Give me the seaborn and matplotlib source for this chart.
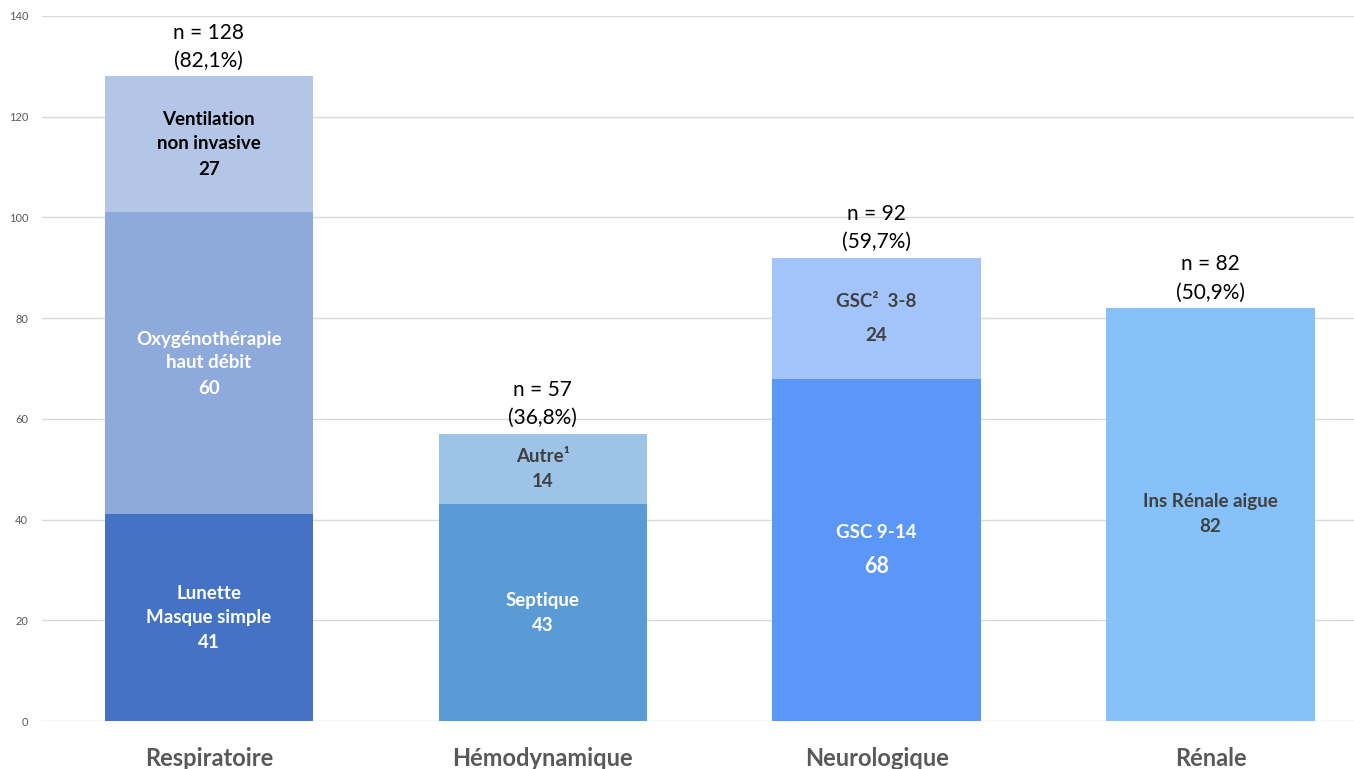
import numpy as np
import pandas as pd
import matplotlib.pyplot as plt
import seaborn as sns

# donnees
categories = ["Respiratoire", "Hémodynamique", "Neurologique", "Rénale"]
seg1 = [41, 43, 68, 82]
seg2 = [60, 14, 24, 0]
seg3 = [27, 0, 0, 0]
pourcent = ["82,1%", "36,8%", "59,7%", "50,9%"]

noms1 = ["Lunette\nMasque simple", "Septique", "GSC 9-14", "Ins Rénale aigue"]
noms2 = ["Oxygénothérapie\nhaut débit", "Autre¹", "GSC²  3-8", ""]
noms3 = ["Ventilation\nnon invasive", "", "", ""]

# couleurs
col1 = ["#4472C4", "#5B9BD5", "#5B96F9", "#86C1F9"]
col2 = ["#8EA9DB", "#9DC3E6", "#A2C4FA", "#86C1F9"]
col3 = ["#B4C6E7", "#9DC3E6", "#A2C4FA", "#86C1F9"]
txt1 = ["white", "white", "white", "#404040"]
txt2 = ["white", "#404040", "#404040", "#404040"]
txt3 = ["black", "#404040", "#404040", "#404040"]

sns.set_style("white")
plt.rcParams["font.family"] = ["Lato", "DejaVu Sans"]

fig = plt.figure(figsize=(13.54, 7.69), dpi=100)
ax = fig.add_axes([0.031, 0.0624, 0.969, 0.917])

niveaux = [seg1, seg2, seg3]
cumul = np.cumsum(np.array(niveaux), axis=0)
couleurs = [col1, col2, col3]

# barres empilees: on dessine du haut vers le bas
for k in [2, 1, 0]:
    df = pd.DataFrame({"cat": categories, "val": cumul[k]})
    sns.barplot(data=df, x="cat", y="val", hue="cat", order=categories,
                palette=dict(zip(categories, couleurs[k])), width=0.624,
                saturation=1, legend=False, linewidth=0, ax=ax, zorder=2)

# etiquettes dans les segments
noms = [noms1, noms2, noms3]
txtc = [txt1, txt2, txt3]
for k in range(3):
    for i, cat in enumerate(categories):
        v = niveaux[k][i]
        if v == 0:
            continue
        bas = cumul[k][i] - v
        centre = bas + v / 2
        nom = noms[k][i]
        nl = nom.count("\n") + 1
        L = 24.5 if cat == "Neurologique" else 18
        vsize = 15.5 if (cat == "Neurologique" and k == 0) else 13.5
        ax.annotate(nom, (i, centre), xytext=(0, L / 2), textcoords="offset points",
                    ha="center", va="center", fontsize=13.5, fontweight="bold",
                    color=txtc[k][i], linespacing=1.47, zorder=3)
        ax.annotate(str(v), (i, centre), xytext=(0, -nl * L / 2), textcoords="offset points",
                    ha="center", va="center", fontsize=vsize, fontweight="bold",
                    color=txtc[k][i], zorder=3)

# totaux au dessus
totaux = cumul[2]
for i in range(len(categories)):
    ax.annotate(f"n = {totaux[i]}\n({pourcent[i]})", (i, totaux[i]), xytext=(0, 4),
                textcoords="offset points", ha="center", va="bottom",
                fontsize=15, linespacing=1.5, color="black")

ax.set_ylim(0, 140)
ax.set_xlim(-0.5, 3.43)
ax.set_yticks(range(0, 141, 20))
ax.yaxis.grid(True, color="#D9D9D9", linewidth=1, zorder=0)
ax.set_axisbelow(True)
for s in ax.spines.values():
    s.set_visible(False)
ax.tick_params(axis="y", length=0, labelsize=8, labelcolor="#595959", pad=10)
ax.tick_params(axis="x", length=0, labelsize=17, labelcolor="#595959", pad=19)
for lab in ax.get_xticklabels():
    lab.set_fontweight("bold")
ax.set_xlabel("")
ax.set_ylabel("")

plt.savefig("out.png", dpi=100)
